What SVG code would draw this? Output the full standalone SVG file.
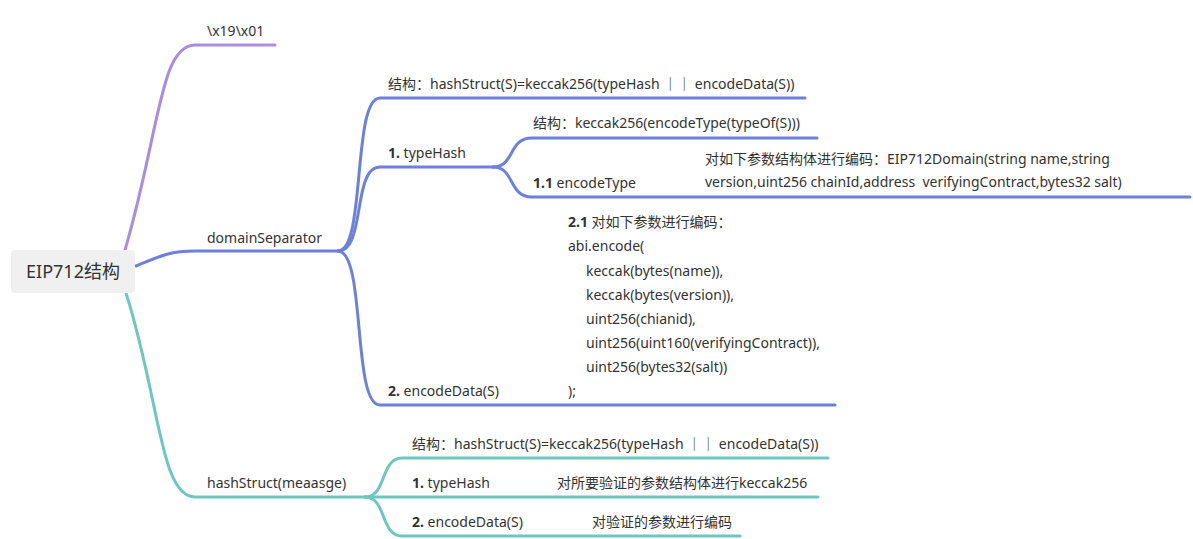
<svg xmlns="http://www.w3.org/2000/svg" width="1193" height="539" viewBox="0 0 1193 539">
<style>
text{font-family:"Noto Sans","Noto Sans CJK SC",sans-serif;font-size:14px;fill:#333}
.b{font-weight:bold}
.root{font-size:18px}
.c{fill:none;stroke-width:3;stroke-linecap:round}
.p{stroke:#a88de0}
.bl{stroke:#6f80da}
.t{stroke:#6ec6c1}
</style>
<rect width="1193" height="539" fill="#fff"/>
<g id="connectors">
<path class="c p" d="M125,250 C160,130 160,45 195,45 H275"/>
<path class="c bl" d="M136,266 C160,256 170,251 195,251 H338"/>
<path class="c bl" d="M338,251 C366,251 352,98 380,98 H805"/>
<path class="c bl" d="M338,251 C366,251 352,167 380,167 H493"/>
<path class="c bl" d="M338,251 C366,251 352,405 380,405 H835"/>
<path class="c bl" d="M493,167 C515,167 508,138 532,138 H817"/>
<path class="c bl" d="M493,167 C515,167 508,197 532,197 H1190"/>
<path class="c t" d="M126,293 C160,400 160,497 195,497 H365"/>
<path class="c t" d="M365,497 C387,497 380,458 402,458 H828"/>
<path class="c t" d="M365,497 H818"/>
<path class="c t" d="M365,497 C387,497 380,536 402,536 H740"/>
</g>
<g id="root">
<rect x="11" y="250" width="124" height="43" rx="4" fill="#f0f0f0"/>
<text class="root" x="73" y="278" text-anchor="middle">EIP712结构</text>
</g>
<g id="n-x19"><text x="207" y="36">\x19\x01</text></g>
<g id="n-domain"><text x="207" y="243">domainSeparator</text></g>
<g id="n-struct1"><text x="388" y="89">结构：hashStruct(S)=keccak256(typeHash ｜｜ encodeData(S))</text></g>
<g id="n-typehash1"><text x="388" y="158"><tspan class="b">1.</tspan> typeHash</text></g>
<g id="n-struct2"><text x="533" y="128">结构：keccak256(encodeType(typeOf(S)))</text></g>
<g id="n-encodetype"><text x="533" y="188"><tspan class="b">1.1</tspan> encodeType</text>
<text x="705" y="164">对如下参数结构体进行编码：EIP712Domain(string name,string</text>
<text x="705" y="187">version,uint256 chainId,address&#160; verifyingContract,bytes32 salt)</text></g>
<g id="n-encodedata1"><text x="388" y="396"><tspan class="b">2.</tspan> encodeData(S)</text>
<text x="568" y="227"><tspan class="b">2.1</tspan> 对如下参数进行编码：</text>
<text x="568" y="251">abi.encode(</text>
<text x="586" y="276">keccak(bytes(name)),</text>
<text x="586" y="300">keccak(bytes(version)),</text>
<text x="586" y="324">uint256(chianid),</text>
<text x="586" y="348">uint256(uint160(verifyingContract)),</text>
<text x="586" y="372">uint256(bytes32(salt))</text>
<text x="568" y="396">);</text></g>
<g id="n-hashstruct"><text x="207" y="488">hashStruct(meaasge)</text></g>
<g id="n-struct3"><text x="412" y="449">结构：hashStruct(S)=keccak256(typeHash ｜｜ encodeData(S))</text></g>
<g id="n-typehash2"><text x="412" y="488"><tspan class="b">1.</tspan> typeHash</text><text x="557" y="488">对所要验证的参数结构体进行keccak256</text></g>
<g id="n-encodedata2"><text x="412" y="527"><tspan class="b">2.</tspan> encodeData(S)</text><text x="592" y="527">对验证的参数进行编码</text></g>
</svg>
